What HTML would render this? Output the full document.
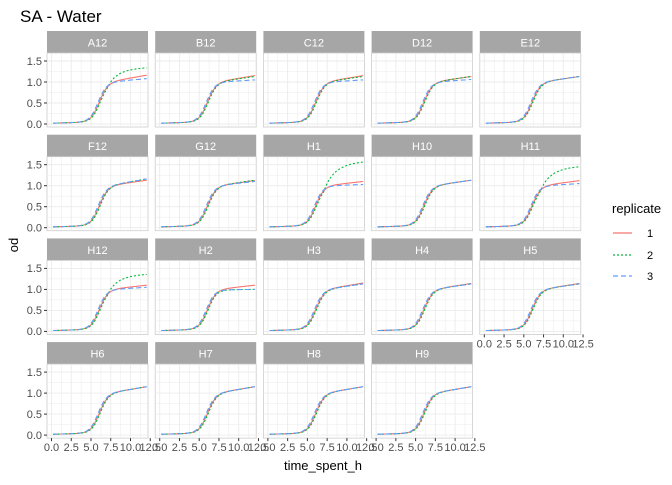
<!DOCTYPE html>
<html><head><meta charset="utf-8"><style>
body{margin:0;background:#fff;font-family:"Liberation Sans",sans-serif}
</style></head><body>
<svg id="s" width="672" height="480" xmlns="http://www.w3.org/2000/svg" font-family="Liberation Sans, sans-serif">
<text x="20" y="22" font-size="17" fill="#000">SA - Water</text>
<text x="323" y="470" font-size="13" text-anchor="middle" fill="#000">time_spent_h</text>
<text x="18" y="245" font-size="13" text-anchor="middle" fill="#000" transform="rotate(-90 18 245)">od</text>
<text x="612" y="213" font-size="13" fill="#000">replicate</text>
<line x1="613" x2="632" y1="233" y2="233" stroke="#F8766D" stroke-width="1.2"/>
<line x1="613" x2="632" y1="255" y2="255" stroke="#00BA38" stroke-width="1.2" stroke-dasharray="2,2"/>
<line x1="613" x2="632" y1="276" y2="276" stroke="#619CFF" stroke-width="1.2" stroke-dasharray="5,3"/>
<text x="647" y="237" font-size="11" fill="#000">1</text>
<text x="647" y="259" font-size="11" fill="#000">2</text>
<text x="647" y="280" font-size="11" fill="#000">3</text>
<g id="g"></g>
</svg>
<script>
var P=[["A12",1.16,1.36,1.08],["B12",1.15,1.13,1.05],["C12",1.15,1.13,1.05],["D12",1.13,1.13,1.06],["E12",1.13,1.13,1.13],
["F12",1.13,1.16,1.16],["G12",1.12,1.13,1.1],["H1",1.1,1.6,1.03],["H10",1.13,1.13,1.13],["H11",1.12,1.48,1.05],
["H12",1.1,1.38,1.05],["H2",1.1,1.0,1.0],["H3",1.15,1.13,1.13],["H4",1.14,1.13,1.13],["H5",1.14,1.13,1.13],
["H6",1.15,1.15,1.15],["H7",1.15,1.15,1.15],["H8",1.15,1.15,1.15],["H9",1.15,1.15,1.15]];
var h='';
function curve(t,tg,mid,hi){var s=1/(1+Math.exp(-(t-mid)*1.9));var base=0.02+0.005*t;
 if(hi){var v=tg-(tg-0.98)*Math.exp(-Math.max(0,t-7)/1.8);return base*(1-s)+s*v;}
 return base*(1-s)+s*(0.99+(tg-0.99)*Math.max(0,t-6.8)/5.2);}
var cols=["#F8766D","#00BA38","#619CFF"],dash=["","2,2","5,3"];
P.forEach(function(p,i){var c=i%5,r=Math.floor(i/5);var L=47+c*108.2,W=101,T=31+r*103.7,PT=T+22,PH=74;
 h+='<rect x="'+L+'" y="'+T+'" width="'+W+'" height="22" fill="#A6A6A6"/>';
 h+='<text x="'+(L+W/2)+'" y="'+(T+15.5)+'" font-size="11" fill="#fff" text-anchor="middle">'+p[0]+'</text>';
 h+='<rect x="'+L+'" y="'+PT+'" width="'+W+'" height="'+PH+'" fill="#fff" stroke="#cccccc" stroke-width="0.8"/>';
 var x0=L+4.5,sx=7.9,y0=PT+71,sy=42;
 for(var k=0;k<=10;k++){var gx=x0+k*1.25*sx;if(gx<L+W)h+='<line x1="'+gx+'" x2="'+gx+'" y1="'+PT+'" y2="'+(PT+PH)+'" stroke="#ebebeb" stroke-width="'+(k%2?0.5:0.9)+'"/>';}
 for(var k=0;k<=6;k++){var gy=y0-k*0.25*sy;if(gy>PT)h+='<line x1="'+L+'" x2="'+(L+W)+'" y1="'+gy+'" y2="'+gy+'" stroke="#ebebeb" stroke-width="'+(k%2?0.5:0.9)+'"/>';}
 if(c==0){["0.0","0.5","1.0","1.5"].forEach(function(t,j){var gy=y0-j*0.5*sy;h+='<text x="'+(L-5)+'" y="'+(gy+3.8)+'" font-size="11" fill="#4d4d4d" text-anchor="end">'+t+'</text><line x1="'+(L-3)+'" x2="'+L+'" y1="'+gy+'" y2="'+gy+'" stroke="#333"/>';});}
 if(r==3||i==14){["0.0","2.5","5.0","7.5","10.0","12.5"].forEach(function(t,j){var gx=x0+j*2.5*sx;h+='<text x="'+gx+'" y="'+(PT+PH+13)+'" font-size="11" fill="#4d4d4d" text-anchor="middle">'+t+'</text><line x1="'+gx+'" x2="'+gx+'" y1="'+(PT+PH)+'" y2="'+(PT+PH+3)+'" stroke="#333"/>';});}
 for(var q=0;q<3;q++){var tg=p[q+1],mid=[6.05,6.15,5.9][q],pts=[];
  for(var t=0.2;t<=12.1;t+=0.15){var v=curve(t,tg,mid,tg>1.25);pts.push((x0+t*sx).toFixed(1)+','+(y0-v*sy).toFixed(1));}
  h+='<polyline points="'+pts.join(' ')+'" fill="none" stroke="'+cols[q]+'" stroke-width="1.1"'+(dash[q]?' stroke-dasharray="'+dash[q]+'"':'')+'/>';}
});
document.getElementById('g').innerHTML=h;
</script>
</body></html>
